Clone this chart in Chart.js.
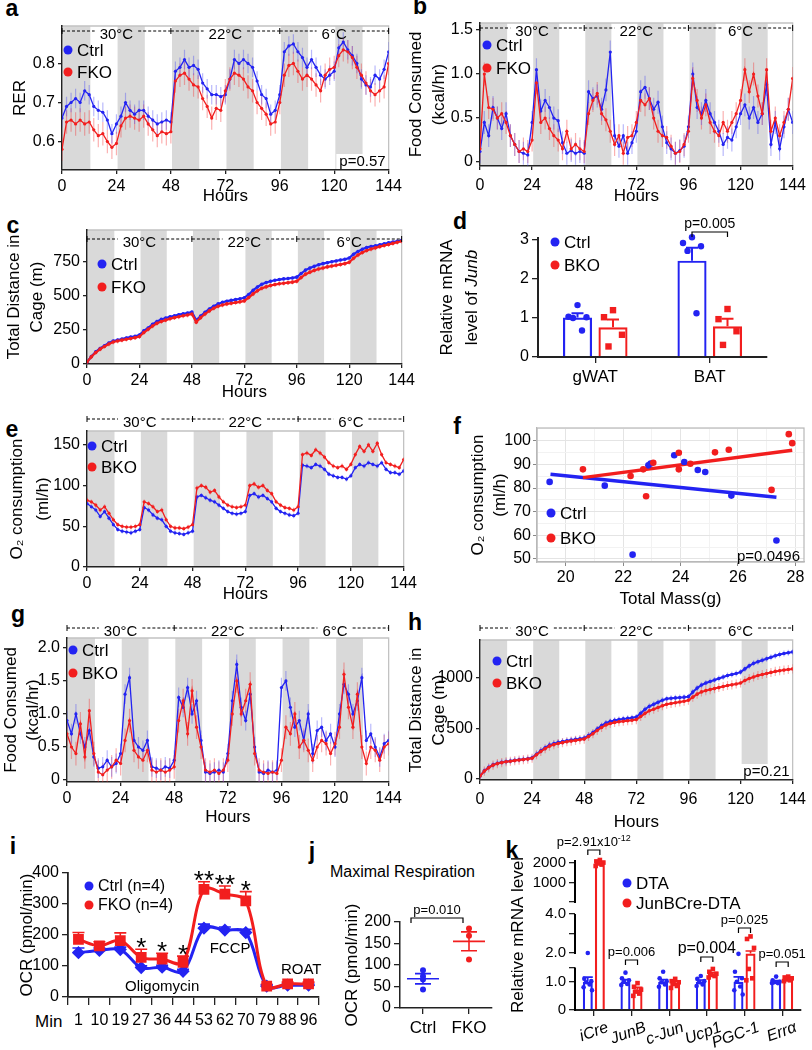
<!DOCTYPE html>
<html>
<head>
<meta charset="utf-8">
<script src="https://cdn.jsdelivr.net/npm/chart.js@4.4.1/dist/chart.umd.min.js"></script>
<style>
body{margin:0;background:#fff;width:812px;height:1050px;position:relative;overflow:hidden;font-family:"Liberation Sans",Arial,sans-serif}
canvas{position:absolute}
.lt{position:absolute;font-weight:bold;font-size:23px;line-height:23px;transform:translate(-50%,-55%)}
.tx{position:absolute;white-space:nowrap;color:#000}
</style>
</head>
<body>
<div class="lt" style="left:12px;top:10px">a</div>
<div class="lt" style="left:420px;top:8px">b</div>
<div class="lt" style="left:13px;top:227px">c</div>
<div class="lt" style="left:460px;top:223px">d</div>
<div class="lt" style="left:12px;top:431px">e</div>
<div class="lt" style="left:457px;top:428px">f</div>
<div class="lt" style="left:18px;top:616px">g</div>
<div class="lt" style="left:415px;top:624px">h</div>
<div class="lt" style="left:13px;top:848px">i</div>
<div class="lt" style="left:312px;top:853px">j</div>
<div class="lt" style="left:512px;top:852px">k</div>
<div class="tx" style="left:35px;top:1012px;font-size:17px">Min</div>
<div class="tx" style="left:330px;top:863px;font-size:16px">Maximal Respiration</div>
<script>
// ---- data ----
const hours = [0,2,4,6,8,10,12,14,16,18,20,22,24,26,28,30,32,34,36,38,40,42,44,46,
  48,50,52,54,56,58,60,62,64,66,68,70,72,74,76,78,80,82,84,86,88,90,92,94,
  96,98,100,102,104,106,108,110,112,114,116,118,120,122,124,126,128,130,132,134,136,138,140,142,144];
const hourTicks = [0,24,48,72,96,120,144];
const darkStarts = [0.5,24.5,48.5,72.5,96.5,120.5];
const darkLength = 12;
const tempLabels = ['30°C','22°C','6°C'];
const tempBounds = [0,48,96,144];

// a: RER
const aCtrl = [0.66,0.69,0.70,0.71,0.70,0.73,0.72,0.69,0.68,0.675,0.655,0.62,
  0.645,0.665,0.70,0.68,0.67,0.68,0.68,0.665,0.655,0.645,0.65,0.655,
  0.65,0.78,0.79,0.81,0.79,0.795,0.785,0.75,0.735,0.72,0.72,0.715,
  0.72,0.76,0.81,0.80,0.81,0.80,0.79,0.755,0.72,0.71,0.67,0.68,
  0.72,0.83,0.845,0.85,0.83,0.815,0.79,0.81,0.79,0.77,0.76,0.77,
  0.78,0.84,0.855,0.835,0.82,0.80,0.76,0.745,0.74,0.77,0.76,0.785,0.83];
const aFko = [0.58,0.65,0.655,0.645,0.655,0.645,0.65,0.63,0.615,0.62,0.60,0.585,
  0.595,0.64,0.66,0.665,0.66,0.655,0.665,0.645,0.63,0.615,0.625,0.62,
  0.625,0.755,0.77,0.775,0.76,0.745,0.74,0.71,0.69,0.66,0.685,0.68,
  0.73,0.76,0.775,0.77,0.76,0.74,0.73,0.70,0.685,0.67,0.645,0.65,
  0.70,0.77,0.795,0.80,0.78,0.76,0.77,0.76,0.745,0.73,0.77,0.785,
  0.79,0.82,0.835,0.83,0.815,0.79,0.77,0.75,0.73,0.72,0.73,0.74,0.80];
const aYTicks = [0.6,0.7,0.8];

// b: food consumed (FKO)
const bCtrl = [0.12,0.45,0.3,0.62,0.5,0.38,0.55,0.3,0.2,0.12,0.1,0.08,
  0.45,1.05,0.58,0.7,0.62,0.5,0.47,0.22,0.1,0.13,0.1,0.12,
  0.1,0.8,0.72,0.75,0.6,0.82,1.25,0.3,0.18,0.3,0.1,0.22,
  0.35,0.8,0.85,0.72,0.6,0.68,0.4,0.22,0.15,0.1,0.13,0.18,
  0.4,1.0,0.62,0.55,0.7,0.55,0.45,0.35,0.2,0.28,0.25,0.4,
  0.55,0.65,0.5,0.62,0.45,0.55,0.88,0.2,0.45,0.15,0.4,0.6,0.45];
const bFko = [0.15,1.0,0.62,0.6,0.5,0.55,0.45,0.3,0.2,0.12,0.15,0.12,
  0.25,0.9,0.45,0.5,0.38,0.3,0.25,0.15,0.35,0.15,0.2,0.15,
  0.12,0.55,0.7,0.78,0.55,0.48,0.35,0.2,0.3,0.1,0.28,0.3,
  0.45,0.7,0.65,0.72,0.5,0.35,0.3,0.28,0.18,0.1,0.12,0.2,
  0.35,0.95,0.7,0.5,0.65,0.45,0.35,0.3,0.45,0.35,0.45,0.55,
  0.7,1.05,0.8,1.0,0.75,0.55,1.05,0.35,0.5,0.3,0.45,0.6,0.95];
const bYTicks = [0,0.5,1.0,1.5];

// c: total distance (FKO)
const cCtrl = [10,50,85,110,130,150,165,172,180,188,195,200,
  210,240,262,288,310,325,335,345,352,360,366,372,
  380,318,350,378,402,422,440,452,460,466,472,478,
  485,510,540,565,585,598,608,615,620,625,628,632,
  638,665,690,705,718,730,738,745,752,758,765,770,
  780,808,828,845,858,865,870,878,885,892,898,904,910];
const cFko = [10,48,80,105,125,143,158,165,172,178,184,190,
  198,228,252,276,296,310,320,330,338,345,352,358,
  365,305,338,365,388,408,422,432,440,445,450,455,
  462,487,514,537,556,566,576,583,589,593,597,601,
  608,635,660,675,688,698,706,714,720,726,732,738,
  748,778,802,820,835,846,855,864,872,880,888,896,904];
const cYTicks = [0,250,500,750];

// e: O2 consumption (BKO)
const eCtrl = [78,74,70,62,68,60,52,46,44,43,42,44,
  46,73,70,64,60,58,50,44,42,41,40,42,
  44,86,88,85,82,80,76,72,68,66,65,66,
  68,88,90,86,88,84,80,72,68,66,64,63,
  66,125,124,122,126,124,120,114,112,110,110,108,
  112,122,126,124,128,126,124,128,120,116,116,114,118];
const eBko = [82,80,76,70,74,66,58,52,50,49,49,50,
  52,80,78,74,68,70,58,50,48,48,47,49,
  52,97,100,98,92,94,86,80,76,74,73,74,
  76,100,102,98,100,94,90,80,76,73,72,70,
  74,138,140,137,144,140,135,128,124,122,124,120,
  126,138,148,142,150,142,152,138,128,126,124,122,132];
const eYTicks = [0,50,100,150];

// g: food consumed (BKO)
const gCtrl = [0.9,0.7,1.0,0.7,0.5,0.75,0.35,0.18,0.2,0.3,0.2,0.25,
  0.4,1.3,1.55,0.6,0.5,0.45,0.6,0.2,0.18,0.15,0.2,0.18,
  0.3,1.25,1.1,1.4,1.0,1.2,0.6,0.12,0.1,0.12,0.15,0.12,
  0.4,1.2,1.75,1.1,0.9,1.3,0.5,0.12,0.1,0.15,0.12,0.15,
  1.4,1.5,1.1,0.8,0.9,0.6,1.0,0.4,0.75,0.8,0.6,0.7,
  0.5,1.0,1.45,1.3,1.0,1.2,1.55,0.6,0.7,0.5,0.35,0.55,0.6];
const gBko = [0.7,0.5,0.4,0.85,0.35,1.05,0.4,0.12,0.08,0.15,0.2,0.3,
  0.25,0.6,0.9,0.45,0.35,0.3,0.45,0.15,0.12,0.15,0.12,0.15,
  0.2,0.9,1.2,0.7,1.35,0.8,0.5,0.15,0.12,0.15,0.1,0.15,
  0.3,1.0,1.5,1.0,1.2,1.45,0.4,0.15,0.12,0.1,0.12,0.1,
  0.3,0.8,0.7,1.0,0.5,0.6,0.45,0.3,0.5,0.6,0.55,0.4,
  0.55,0.8,1.6,1.1,0.8,1.3,0.5,0.25,0.5,0.45,0.3,0.5,0.55];
const gYTicks = [0,0.5,1.0,1.5,2.0];

// h: total distance (BKO)
const hCtrl = [30,80,115,140,155,165,172,178,185,190,195,200,
  210,245,280,310,335,350,362,370,378,385,392,398,
  405,430,460,495,530,555,570,580,588,595,600,606,
  614,650,690,720,740,760,780,795,800,803,806,810,
  815,860,900,930,950,965,980,995,1010,1025,1035,1045,
  1058,1090,1120,1145,1160,1175,1190,1205,1220,1232,1242,1250,1258];
const hBko = [30,78,112,137,152,162,170,175,182,187,192,197,
  205,240,272,300,325,340,352,360,368,375,382,388,
  395,420,448,480,510,535,550,560,567,572,577,582,
  588,618,650,675,690,708,725,740,748,755,762,770,
  780,810,840,862,875,885,895,905,915,925,932,940,
  950,975,995,1010,1025,1035,1045,1055,1065,1072,1078,1084,1090];
const hYTicks = [0,500,1000];

// d: Junb mRNA
const dTissues = ['gWAT','BAT'];
const dCtrl = [1.01,2.47];
const dBko = [0.76,0.79];
const dCtrlSem = [0.11,0.33];
const dBkoSem = [0.2,0.19];
const dCtrlPts = [[1.33,1.03,1.02,1.0,0.68],[3.07,2.92,2.84,2.72,1.12]];
const dBkoPts = [[1.2,1.02,0.57,0.27],[1.23,0.97,0.66,0.31]];
const dYTicks = [0,1,2,3];
const dP = 'p=0.005';

// f: O2 vs mass
const fCtrlMass = [19.44,21.36,22.33,22.88,22.96,23.78,24.13,24.6,24.86,25.77,27.34];
const fCtrlO2 = [82.6,81,51.8,89.6,90.4,93.9,91,87.6,86.8,76.8,57.8];
const fBkoMass = [20.6,22.26,22.7,22.8,23.05,23.94,23.94,24.34,25.2,25.68,27.17,27.77,27.89];
const fBkoO2 = [87.9,85.1,87.9,76.5,90.7,94.9,87.9,90.3,95.1,96.2,79.2,102.8,99];
const fCtrlFitX = [19.47,27.34], fCtrlFitY = [85.8,76.1];
const fBkoFitX = [20.6,27.89], fBkoFitY = [84.4,96];
const fXMajor = [20,22,24,26,28], fXMinor = [19,21,23,25,27];
const fYMajor = [50,60,70,80,90,100], fYMinor = [55,65,75,85,95,105];
const fP = 'p=0.0496';

// i: OCR
const iMinutes = ['1','10','19','27','36','44','53','62','70','79','88','96'];
const iCtrl = [143,150,153,95,96,83,222,216,208,35,38,38];
const iCtrlSem = [15,8,8,6,6,6,13,10,10,4,4,4];
const iFko = [186,165,182,128,122,112,347,332,310,35,42,42];
const iFkoSem = [22,13,25,26,19,20,25,26,30,6,6,6];
const iStars = ['','','','*','*','*','**','**','*','','',''];
const iYTicks = [0,100,200,300,400];

// j: maximal respiration
const jGroups = ['Ctrl','FKO'];
const jCtrl = [88,74,66,43];
const jFko = [185,168,113];
const jMean = [68,155];
const jSem = [12,22];
const jYTicks = [0,50,100,150,200];
const jP = 'p=0.010';

// k: broken-axis mRNA
const kGenes = ['iCre','JunB','c-Jun','Ucp1','PGC-1','Errα'];
const kDta = [1.0,1.0,1.0,1.0,1.0,1.0];
const kDtaSem = [0.16,0.08,0.08,0.06,0.17,0.04];
const kCre = [2000,0.72,0.96,1.28,1.98,1.1];
const kCreSem = [70,0.08,0.05,0.04,0.12,0.04];
const kDtaPts = [[2.0,1.1,1.02,0.98,0.9,0.8,0.7],[1.32,1.12,1.05,1.0,0.92,0.88],[1.35,1.12,1.02,0.98,0.9,0.82],
  [1.2,1.1,1.02,0.98,0.9,0.85],[1.97,1.35,1.12,1.0,0.83,0.7,0.55],[1.18,1.05,1.0,0.98,0.95,0.95]];
const kCrePts = [[2150,2080,2020,1980,1920,1850],[0.95,0.82,0.72,0.65,0.58,0.5],[1.1,1.02,0.98,0.92,0.85,0.78],
  [1.45,1.35,1.28,1.24,1.2,1.15],[2.85,2.72,2.26,1.45,1.12,1.05],[1.18,1.15,1.12,1.08,1.05,1.02]];
const kTickVals = [0,1,1.5,2,3,4,50,1000,2000];
const kTickText = ['0','1.0','','2.0','','4.0','','1000','2000'];
const kP = ['p=2.91x10','p=0.006','','p=0.004','p=0.025','p=0.051'];

// ---- style ----
const FONT = '"Liberation Sans", Arial, Helvetica, sans-serif';
const BLUE = '#2323f2', RED = '#f21e1e';
const BLUE_T = 'rgba(70,70,245,0.38)', RED_T = 'rgba(245,50,50,0.38)';
const BAND = '#d9d9d9';
Chart.defaults.font.family = FONT;
Chart.defaults.font.size = 16;
Chart.defaults.color = '#000';

// y-axis segments of panel k: [from, to, fracFrom, fracTo]
const KSEG = [[0,1.5,0,0.283],[2,4,0.38,0.64],[50,2150,0.72,1]];

class BrokenScale extends Chart.LinearScale {
  _frac(v) {
    for (let i = 0; i < KSEG.length; i++) {
      const [a, b, fa, fb] = KSEG[i];
      if (v <= b || i === KSEG.length - 1) {
        if (v >= a || i === 0) return fa + (v - a) / (b - a) * (fb - fa);
        const p = KSEG[i - 1];
        return p[3] + (v - p[1]) / (a - p[1]) * (fa - p[3]);
      }
    }
    return 0;
  }
  getPixelForValue(v) { return this.bottom - this._frac(v) * (this.bottom - this.top); }
  getValueForPixel(px) {
    const f = (this.bottom - px) / (this.bottom - this.top);
    for (let i = 0; i < KSEG.length; i++) {
      const [a, b, fa, fb] = KSEG[i];
      if (f <= fb || i === KSEG.length - 1) return a + (f - fa) / (fb - fa) * (b - a);
    }
    return 0;
  }
}
BrokenScale.id = 'broken';
BrokenScale.defaults = Chart.LinearScale.defaults;
Chart.register(BrokenScale);

function box(b) {
  const c = document.createElement('canvas');
  c.width = b[2]; c.height = b[3];
  c.style.left = b[0] + 'px'; c.style.top = b[1] + 'px';
  document.body.appendChild(c);
  return c;
}
function frame(b, r) {
  return {yW: r[0] - b[0], xH: b[1] + b[3] - r[3],
    pad: {left: 0, top: r[1] - b[1], right: b[0] + b[2] - r[2], bottom: 0}};
}
function axis(o) {
  const a = {
    type: o.type || 'linear', offset: !!o.offset,
    afterFit: s => { if (s.isHorizontal()) s.height = o.size; else s.width = o.size; },
    ticks: {font: {size: o.fs || 16, style: o.italic ? 'italic' : 'normal'}, color: '#000', padding: o.pad == null ? 3 : o.pad,
      maxRotation: o.rot || 0, minRotation: o.rot || 0, autoSkip: false, labelOffset: o.lo || 0},
    grid: {drawOnChartArea: false, drawTicks: true, tickLength: o.tl == null ? 4 : o.tl, color: '#222', lineWidth: 1.3, offset: !!o.gridOffset},
    border: {display: o.border !== false, color: o.bc || '#222', width: o.bw || 1.5},
    title: o.title ? {display: true, text: o.title, color: '#000',
      font: {size: o.tfs || 17, lineHeight: o.lh || 1.2}, padding: {top: o.tp || 0, bottom: 0}} : {display: false}
  };
  if (o.min != null) a.min = o.min;
  if (o.max != null) a.max = o.max;
  if (o.ticks) a.afterBuildTicks = s => { s.ticks = o.ticks.map(v => ({value: v})); };
  if (o.fmt) a.ticks.callback = o.fmt;
  return a;
}
const fmt = d => v => (v === 0 ? '0' : v.toFixed(d));

function drawLegend(ctx, x, y, gap, items, fs) {
  ctx.font = fs + 'px ' + FONT; ctx.textAlign = 'left'; ctx.textBaseline = 'middle';
  items.forEach((it, k) => {
    const yy = y + k * gap;
    ctx.fillStyle = it.c; ctx.beginPath(); ctx.arc(x, yy, 4.5, 0, Math.PI * 2); ctx.fill();
    ctx.fillStyle = '#000'; ctx.fillText(it.t, x + 9, yy + 1);
  });
}
function drawHeader(ctx, x, yy, tdy) {
  ctx.font = '15px ' + FONT; ctx.textAlign = 'center'; ctx.textBaseline = 'middle';
  ctx.strokeStyle = '#000'; ctx.fillStyle = '#000'; ctx.lineWidth = 1;
  for (let k = 0; k < tempLabels.length; k++) {
    const x0 = x.getPixelForValue(tempBounds[k]), x1 = x.getPixelForValue(tempBounds[k + 1]);
    const cx = (x0 + x1) / 2, w = ctx.measureText(tempLabels[k]).width / 2 + 5;
    ctx.setLineDash([3, 2]);
    ctx.beginPath(); ctx.moveTo(x0, yy); ctx.lineTo(cx - w, yy); ctx.moveTo(cx + w, yy); ctx.lineTo(x1, yy); ctx.stroke();
    ctx.setLineDash([]);
    ctx.fillText(tempLabels[k], cx, yy + tdy);
  }
  ctx.beginPath();
  tempBounds.forEach(b => { const px = x.getPixelForValue(b); ctx.moveTo(px, yy - 3); ctx.lineTo(px, yy + 3); });
  ctx.stroke();
}

const timeDecor = {
  id: 'timeDecor',
  beforeDraw(ch) {
    const {ctx, chartArea: r, scales: {x}} = ch;
    ctx.save();
    ctx.fillStyle = BAND;
    darkStarts.forEach(s => {
      const x1 = Math.max(r.left + 1, x.getPixelForValue(s));
      const x2 = Math.min(r.right, x.getPixelForValue(s + darkLength));
      if (x2 > x1) ctx.fillRect(x1, r.top, x2 - x1, r.bottom - r.top);
    });
    ctx.strokeStyle = '#c2c2c2'; ctx.lineWidth = 1.3;
    ctx.beginPath(); ctx.moveTo(r.left, r.top); ctx.lineTo(r.right, r.top); ctx.lineTo(r.right, r.bottom); ctx.stroke();
    ctx.restore();
  },
  beforeDatasetsDraw(ch) {
    const {ctx, chartArea: r, scales: {y}} = ch;
    ctx.save();
    ctx.beginPath(); ctx.rect(r.left, r.top, r.right - r.left, r.bottom - r.top); ctx.clip();
    ch.data.datasets.forEach((ds, i) => {
      ctx.strokeStyle = ds.semColor; ctx.lineWidth = 1.2; ctx.beginPath();
      ch.getDatasetMeta(i).data.forEach((pt, j) => {
        const v = ds.data[j].y;
        ctx.moveTo(pt.x, y.getPixelForValue(v + ds.sem));
        ctx.lineTo(pt.x, y.getPixelForValue(v - ds.sem));
      });
      ctx.stroke();
    });
    ctx.restore();
  },
  afterDatasetsDraw(ch, args, o) {
    const {ctx, chartArea: r, scales: {x}} = ch;
    ctx.save();
    drawHeader(ctx, x, r.top + o.hdy, 4);
    drawLegend(ctx, r.left + o.lx, r.top + o.ly, o.lgap, [{t: 'Ctrl', c: BLUE}, {t: o.mut, c: RED}], 17);
    if (o.p) {
      ctx.font = '15px ' + FONT;
      const w = ctx.measureText(o.p).width;
      ctx.fillStyle = '#fff'; ctx.fillRect(r.right - w - 6, r.bottom - 16, w + 5, 15);
      ctx.fillStyle = '#000'; ctx.textAlign = 'right'; ctx.textBaseline = 'middle';
      ctx.fillText(o.p, r.right - 3, r.bottom - 8);
    }
    ctx.restore();
  }
};

function timeChart(p) {
  const L = frame(p.box, p.area);
  return new Chart(box(p.box), {
    type: 'line',
    data: {datasets: [
      {v: p.mutV, c: RED, t: RED_T, sem: p.semM},
      {v: p.ctrlV, c: BLUE, t: BLUE_T, sem: p.semC}
    ].map(s => ({
      data: s.v.map((v, i) => ({x: hours[i], y: v})),
      borderColor: s.c, backgroundColor: s.c, borderWidth: p.lw || 1.3,
      pointRadius: p.pr || 1.6, pointBorderWidth: 0, sem: s.sem, semColor: s.t
    }))},
    options: {
      responsive: false, animation: false, events: [],
      layout: {autoPadding: false, padding: L.pad},
      plugins: {legend: {display: false}, tooltip: {enabled: false},
        timeDecor: {hdy: p.hdy, lx: p.lx, ly: p.ly, lgap: p.lgap || 22, mut: p.mut, p: p.p || ''}},
      scales: {
        x: axis({min: 0, max: 144, ticks: hourTicks, size: L.xH, title: 'Hours', pad: p.xpad || 3, fmt: v => String(v)}),
        y: axis({min: p.ymin, max: p.ymax, ticks: p.yTicks, size: L.yW, title: p.title, lh: p.lh, tp: p.tp, fmt: p.fmt})
      }
    },
    plugins: [timeDecor]
  });
}

// ---- time panels ----
timeChart({box: [0, 0, 405, 207], area: [62, 26, 393, 170], ctrlV: aCtrl, mutV: aFko, mut: 'FKO', semC: 0.025, semM: 0.03,
  ymin: 0.527, ymax: 0.896, yTicks: aYTicks, fmt: fmt(1), title: 'RER', tp: 10, hdy: 5, lx: 6, ly: 24, lgap: 22, p: 'p=0.57'});
timeChart({box: [405, 0, 407, 207], area: [480, 23, 803, 166], ctrlV: bCtrl, mutV: bFko, mut: 'FKO', semC: 0.13, semM: 0.13,
  ymin: -0.045, ymax: 1.58, yTicks: bYTicks, fmt: fmt(1), title: ['Food Consumed', '(kcal/hr)'], lh: 1.35, tp: 0, hdy: 5, lx: 7, ly: 22, lgap: 23, xpad: 6});
timeChart({box: [0, 207, 418, 196], area: [87, 230, 413, 364], ctrlV: cCtrl, mutV: cFko, mut: 'FKO', semC: 12, semM: 18,
  ymin: -5, ymax: 987, yTicks: cYTicks, fmt: fmt(0), title: ['Total Distance in', 'Cage (m)'], lh: 1.35, tp: 3, hdy: 9, lx: 15, ly: 34, lgap: 23, lw: 2.2, pr: 1.8});
timeChart({box: [0, 403, 420, 202], area: [87, 431, 417, 567], ctrlV: eCtrl, mutV: eBko, mut: 'BKO', semC: 3, semM: 3,
  ymin: 0, ymax: 167, yTicks: eYTicks, fmt: fmt(0), title: ['O₂ consumption', '(ml/h)'], lh: 1.5, tp: 5, hdy: -12, lx: 5, ly: 15, lgap: 21});
timeChart({box: [0, 605, 405, 223], area: [67, 638, 393, 782], ctrlV: gCtrl, mutV: gBko, mut: 'BKO', semC: 0.15, semM: 0.18,
  ymin: -0.03, ymax: 2.15, yTicks: gYTicks, fmt: fmt(1), title: ['Food Consumed', '(kcal/hr)'], lh: 1.3, tp: 0, hdy: -10, lx: 6, ly: 12, lgap: 23});
timeChart({box: [405, 605, 407, 228], area: [480, 640, 800, 780], ctrlV: hCtrl, mutV: hBko, mut: 'BKO', semC: 30, semM: 45,
  ymin: -10, ymax: 1376, yTicks: hYTicks, fmt: fmt(0), title: ['Total Distance in', 'Cage (m)'], lh: 1.35, tp: 0, hdy: -12, lx: 17, ly: 21, lgap: 22, lw: 2, pr: 1.8, xpad: 6, p: 'p=0.21'});

// ---- bar panels (d, k) ----
const jitter = [0, -1, 1, -0.5, 0.5, -1.2, 1.2];
const barDecor = {
  id: 'barDecor',
  afterDatasetsDraw(ch, args, o) {
    const {ctx, chartArea: r, scales: {y}} = ch;
    ctx.save();
    ch.data.datasets.forEach((ds, i) => {
      ch.getDatasetMeta(i).data.forEach((bar, j) => {
        const top = y.getPixelForValue(ds.data[j] + ds.sem[j]);
        ctx.strokeStyle = ds.borderColor; ctx.lineWidth = o.ew;
        ctx.beginPath(); ctx.moveTo(bar.x, bar.y); ctx.lineTo(bar.x, top);
        ctx.moveTo(bar.x - o.cap, top); ctx.lineTo(bar.x + o.cap, top); ctx.stroke();
        ctx.fillStyle = ds.borderColor;
        ds.pts[j].forEach((v, k) => {
          const px = bar.x + jitter[k % jitter.length] * o.spread, py = y.getPixelForValue(v);
          if (ds.square) ctx.fillRect(px - o.dot, py - o.dot, 2 * o.dot, 2 * o.dot);
          else { ctx.beginPath(); ctx.arc(px, py, o.dot, 0, Math.PI * 2); ctx.fill(); }
        });
      });
    });
    drawLegend(ctx, r.left + o.lx, r.top + o.ly, o.lgap, o.items, o.lfs);
    o.brackets.forEach(b => {
      const x0 = ch.getDatasetMeta(0).data[b.i].x, x1 = ch.getDatasetMeta(1).data[b.i].x, yy = r.top + b.dy;
      ctx.strokeStyle = '#000'; ctx.lineWidth = 1.2;
      ctx.beginPath(); ctx.moveTo(x0, yy + 5); ctx.lineTo(x0, yy); ctx.lineTo(x1, yy); ctx.lineTo(x1, yy + 5); ctx.stroke();
      ctx.fillStyle = '#000'; ctx.textBaseline = 'alphabetic'; ctx.textAlign = 'left';
      ctx.font = b.fs + 'px ' + FONT;
      const w1 = ctx.measureText(b.t).width;
      ctx.font = Math.round(b.fs * 0.7) + 'px ' + FONT;
      const w2 = b.sup ? ctx.measureText(b.sup).width : 0;
      const sx = (x0 + x1) / 2 - (w1 + w2) / 2;
      ctx.font = b.fs + 'px ' + FONT; ctx.fillText(b.t, sx, yy - 4);
      if (b.sup) { ctx.font = Math.round(b.fs * 0.7) + 'px ' + FONT; ctx.fillText(b.sup, sx + w1, yy - 4 - b.fs * 0.4); }
    });
    if (o.junbTitle) {
      ctx.fillStyle = '#000'; ctx.textBaseline = 'middle';
      const my = (r.top + r.bottom) / 2;
      ctx.save(); ctx.translate(29, my); ctx.rotate(-Math.PI / 2);
      ctx.font = '17px ' + FONT; ctx.textAlign = 'center'; ctx.fillText('Relative mRNA', 0, 0);
      ctx.restore();
      ctx.save(); ctx.translate(54, my); ctx.rotate(-Math.PI / 2);
      ctx.font = '17px ' + FONT; const wa = ctx.measureText('level of ').width;
      ctx.font = 'italic 17px ' + FONT; const wb = ctx.measureText('Junb').width;
      ctx.textAlign = 'left';
      ctx.font = '17px ' + FONT; ctx.fillText('level of ', -(wa + wb) / 2, 0);
      ctx.font = 'italic 17px ' + FONT; ctx.fillText('Junb', -(wa + wb) / 2 + wa, 0);
      ctx.restore();
    }
    ctx.restore();
  }
};

(function () {
  const b = [418, 207, 394, 196], L = frame(b, [538, 238, 767, 357]);
  new Chart(box(b), {
    type: 'bar',
    data: {labels: dTissues, datasets: [
      {data: dCtrl, sem: dCtrlSem, pts: dCtrlPts, borderColor: BLUE, backgroundColor: 'rgba(0,0,0,0)', borderWidth: 2.2, categoryPercentage: 0.62, barPercentage: 0.82},
      {data: dBko, sem: dBkoSem, pts: dBkoPts, square: true, borderColor: RED, backgroundColor: 'rgba(0,0,0,0)', borderWidth: 2.2, categoryPercentage: 0.62, barPercentage: 0.82}
    ]},
    options: {
      responsive: false, animation: false, events: [],
      layout: {autoPadding: false, padding: L.pad},
      plugins: {legend: {display: false}, tooltip: {enabled: false},
        barDecor: {ew: 2, cap: 6, dot: 3.2, spread: 9, lx: 17, ly: 4, lgap: 23, lfs: 17,
          items: [{t: 'Ctrl', c: BLUE}, {t: 'BKO', c: RED}],
          brackets: [{i: 1, dy: -6, t: dP, fs: 14}], junbTitle: true}},
      scales: {
        x: axis({type: 'category', offset: true, size: L.xH, fs: 17, tl: 6, pad: 4, bw: 2}),
        y: axis({min: 0, max: 3.05, ticks: dYTicks, size: L.yW, tl: 6, bw: 2, fmt: v => String(v)})
      }
    },
    plugins: [barDecor]
  });
})();

const brokenAxis = {
  id: 'brokenAxis',
  afterDatasetsDraw(ch) {
    const {ctx, chartArea: r, scales: {y}} = ch;
    ctx.save(); ctx.strokeStyle = '#000'; ctx.lineWidth = 2;
    KSEG.forEach(s => {
      ctx.beginPath(); ctx.moveTo(r.left, y.getPixelForValue(s[0]) + 1); ctx.lineTo(r.left, y.getPixelForValue(s[1])); ctx.stroke();
    });
    ctx.restore();
  }
};

(function () {
  const b = [500, 833, 312, 217], L = frame(b, [575, 860, 801, 1010]);
  new Chart(box(b), {
    type: 'bar',
    data: {labels: kGenes, datasets: [
      {data: kDta, sem: kDtaSem, pts: kDtaPts, borderColor: BLUE, backgroundColor: 'rgba(0,0,0,0)', borderWidth: 2.2, categoryPercentage: 0.64, barPercentage: 0.83},
      {data: kCre, sem: kCreSem, pts: kCrePts, square: true, borderColor: RED, backgroundColor: 'rgba(0,0,0,0)', borderWidth: 2.2, categoryPercentage: 0.64, barPercentage: 0.83}
    ]},
    options: {
      responsive: false, animation: false, events: [],
      layout: {autoPadding: false, padding: L.pad},
      plugins: {legend: {display: false}, tooltip: {enabled: false},
        barDecor: {ew: 1.6, cap: 5, dot: 2.3, spread: 3.5, lx: 52, ly: 23, lgap: 20, lfs: 17,
          items: [{t: 'DTA', c: BLUE}, {t: 'JunBCre-DTA', c: RED}],
          brackets: [{i: 0, dy: -10, t: kP[0], sup: '-12', fs: 13}, {i: 1, dy: 100, t: kP[1], fs: 13},
            {i: 3, dy: 97, t: kP[3], fs: 16}, {i: 4, dy: 68, t: kP[4], fs: 13}, {i: 5, dy: 102, t: kP[5], fs: 13}]}},
      scales: {
        x: axis({type: 'category', offset: true, size: L.xH, fs: 16, italic: true, rot: 20, lo: 14, tl: 6, pad: 2, bw: 2}),
        y: Object.assign(axis({min: 0, max: 2150, ticks: kTickVals, size: L.yW, fs: 15, tl: 6, border: false,
          title: 'Relative mRNA level', tp: 8, fmt: v => kTickText[kTickVals.indexOf(v)] || ''}), {type: 'broken'})
      }
    },
    plugins: [barDecor, brokenAxis]
  });
})();

// ---- f: scatter with fits ----
(function () {
  const b = [460, 403, 352, 207], L = frame(b, [537, 428, 804, 562]);
  const isMajor = (arr, v) => arr.indexOf(v) >= 0;
  const fAxis = (ticks, major, size, extra) => Object.assign(axis({ticks: ticks, size: size, bc: '#b8b8b8', bw: 1.2, tl: 4, pad: 2,
    fmt: v => (isMajor(major, v) ? String(v) : '')}), extra);
  const xs = fAxis(fXMajor.concat(fXMinor).sort((p, q) => p - q), fXMajor, L.xH, {min: 19.0, max: 28.3});
  const ys = fAxis(fYMajor.concat(fYMinor).sort((p, q) => p - q), fYMajor, L.yW, {min: 48.7, max: 105.4});
  [[xs, fXMajor], [ys, fYMajor]].forEach(([s, m]) => {
    s.grid = {drawOnChartArea: true, drawTicks: true, tickLength: 4,
      color: c => (c.tick && isMajor(m, c.tick.value) ? '#e4e4e4' : '#f2f2f2'),
      tickColor: c => (c.tick && isMajor(m, c.tick.value) ? '#888' : 'rgba(0,0,0,0)')};
  });
  xs.title = {display: true, text: 'Total Mass(g)', color: '#000', font: {size: 17}, padding: {top: 0, bottom: 0}};
  ys.title = {display: true, text: ['O₂ consumption', '(ml/h)'], color: '#000', font: {size: 17, lineHeight: 1.3}, padding: {top: 7, bottom: 0}};
  const pts = (xa, ya) => xa.map((x, i) => ({x: x, y: ya[i]}));
  const fDecor = {
    id: 'fDecor',
    afterDatasetsDraw(ch) {
      const {ctx, chartArea: r} = ch;
      ctx.save();
      ctx.strokeStyle = '#b8b8b8'; ctx.lineWidth = 1.2;
      ctx.strokeRect(r.left, r.top, r.right - r.left, r.bottom - r.top);
      drawLegend(ctx, r.left + 14, r.top + 85, 25, [{t: 'Ctrl', c: BLUE}, {t: 'BKO', c: RED}], 17);
      ctx.font = '15px ' + FONT; ctx.fillStyle = '#000'; ctx.textAlign = 'right'; ctx.textBaseline = 'middle';
      ctx.fillText(fP, r.right - 4, r.bottom - 5);
      ctx.restore();
    }
  };
  new Chart(box(b), {
    type: 'scatter',
    data: {datasets: [
      {data: pts(fBkoMass, fBkoO2), backgroundColor: RED, pointRadius: 3.3, pointBorderWidth: 0},
      {data: pts(fCtrlMass, fCtrlO2), backgroundColor: BLUE, pointRadius: 3.3, pointBorderWidth: 0},
      {data: pts(fBkoFitX, fBkoFitY), showLine: true, borderColor: RED, borderWidth: 3.5, pointRadius: 0},
      {data: pts(fCtrlFitX, fCtrlFitY), showLine: true, borderColor: BLUE, borderWidth: 3.5, pointRadius: 0}
    ]},
    options: {
      responsive: false, animation: false, events: [],
      layout: {autoPadding: false, padding: L.pad},
      plugins: {legend: {display: false}, tooltip: {enabled: false}},
      scales: {x: xs, y: ys}
    },
    plugins: [fDecor]
  });
})();

// ---- i: OCR trace ----
(function () {
  const b = [0, 833, 330, 217], L = frame(b, [68, 873, 319, 997]);
  const iDecor = {
    id: 'iDecor',
    beforeDatasetsDraw(ch) {
      const {ctx, scales: {y}} = ch;
      ctx.save();
      ch.data.datasets.forEach((ds, i) => {
        ctx.strokeStyle = ds.borderColor; ctx.lineWidth = 1.6;
        ch.getDatasetMeta(i).data.forEach((pt, j) => {
          const top = y.getPixelForValue(ds.data[j] + ds.sem[j]);
          ctx.beginPath(); ctx.moveTo(pt.x, pt.y); ctx.lineTo(pt.x, top);
          ctx.moveTo(pt.x - 6, top); ctx.lineTo(pt.x + 6, top); ctx.stroke();
        });
      });
      ctx.restore();
    },
    afterDatasetsDraw(ch) {
      const {ctx, chartArea: r, scales: {x, y}} = ch;
      ctx.save();
      ctx.fillStyle = '#000'; ctx.textAlign = 'center'; ctx.textBaseline = 'alphabetic';
      ctx.font = '26px ' + FONT;
      iStars.forEach((s, j) => {
        if (!s) return;
        ctx.fillText(s, x.getPixelForValue(j), y.getPixelForValue(iFko[j] + iFkoSem[j]) + 7);
      });
      ctx.font = '15px ' + FONT; ctx.textBaseline = 'middle';
      [['Oligomycin', 4, 32], ['FCCP', 7.25, 155], ['ROAT', 10.65, 87]].forEach(n => {
        ctx.fillText(n[0], x.getPixelForValue(n[1]), y.getPixelForValue(n[2]));
      });
      drawLegend(ctx, r.left + 21, r.top + 13, 19, [{t: 'Ctrl (n=4)', c: BLUE}, {t: 'FKO (n=4)', c: RED}], 16);
      ctx.restore();
    }
  };
  new Chart(box(b), {
    type: 'line',
    data: {labels: iMinutes, datasets: [
      {data: iFko, sem: iFkoSem, borderColor: RED, backgroundColor: RED, borderWidth: 3, pointStyle: 'rect', pointRadius: 5.5, tension: 0.35},
      {data: iCtrl, sem: iCtrlSem, borderColor: BLUE, backgroundColor: BLUE, borderWidth: 3, pointStyle: 'rectRot', pointRadius: 4.5, tension: 0.35}
    ]},
    options: {
      responsive: false, animation: false, events: [],
      layout: {autoPadding: false, padding: L.pad},
      plugins: {legend: {display: false}, tooltip: {enabled: false}},
      scales: {
        x: axis({type: 'category', offset: true, gridOffset: true, size: L.xH, fs: 16, tl: 8, pad: 6, bw: 1.8}),
        y: axis({min: 0, max: 400, ticks: iYTicks, size: L.yW, tl: 6, bw: 1.8, title: 'OCR (pmol/min)', tp: 17, fmt: v => String(v)})
      }
    },
    plugins: [iDecor]
  });
})();

// ---- j: maximal respiration ----
(function () {
  const b = [330, 833, 170, 217], L = frame(b, [400, 922, 492, 1008]);
  const jDecor = {
    id: 'jDecor',
    afterDatasetsDraw(ch) {
      const {ctx, chartArea: r, scales: {x, y}} = ch;
      ctx.save();
      [BLUE, RED].forEach((c, i) => {
        const cx = x.getPixelForValue(i), m = y.getPixelForValue(jMean[i]);
        const hi = y.getPixelForValue(jMean[i] + jSem[i]), lo = y.getPixelForValue(jMean[i] - jSem[i]);
        ctx.strokeStyle = c; ctx.lineWidth = 1.6;
        ctx.beginPath(); ctx.moveTo(cx - 16, m); ctx.lineTo(cx + 16, m);
        ctx.moveTo(cx, hi); ctx.lineTo(cx, lo);
        ctx.moveTo(cx - 8, hi); ctx.lineTo(cx + 8, hi); ctx.moveTo(cx - 8, lo); ctx.lineTo(cx + 8, lo); ctx.stroke();
      });
      const x0 = x.getPixelForValue(0), x1 = x.getPixelForValue(1), yy = r.top - 4;
      ctx.strokeStyle = '#000'; ctx.lineWidth = 1.2;
      ctx.beginPath(); ctx.moveTo(x0 - 12, yy + 5); ctx.lineTo(x0 - 12, yy); ctx.lineTo(x1 - 6, yy); ctx.lineTo(x1 - 6, yy + 5); ctx.stroke();
      ctx.fillStyle = '#000'; ctx.font = '13px ' + FONT; ctx.textAlign = 'center'; ctx.textBaseline = 'alphabetic';
      ctx.fillText(jP, (x0 + x1) / 2 - 9, yy - 4);
      ctx.restore();
    }
  };
  new Chart(box(b), {
    type: 'scatter',
    data: {labels: jGroups, datasets: [
      {data: jCtrl.map(v => ({x: 'Ctrl', y: v})), backgroundColor: BLUE, pointRadius: 3, pointBorderWidth: 0},
      {data: jFko.map(v => ({x: 'FKO', y: v})), backgroundColor: RED, pointRadius: 3, pointBorderWidth: 0}
    ]},
    options: {
      responsive: false, animation: false, events: [],
      layout: {autoPadding: false, padding: L.pad},
      plugins: {legend: {display: false}, tooltip: {enabled: false}},
      scales: {
        x: axis({type: 'category', offset: true, size: L.xH, fs: 17, tl: 6, pad: 4}),
        y: axis({min: 0, max: 200, ticks: jYTicks, size: L.yW, tl: 6, title: 'OCR (pmol/min)', tp: 12, fmt: v => String(v)})
      }
    },
    plugins: [jDecor]
  });
})();
</script>
</body>
</html>
